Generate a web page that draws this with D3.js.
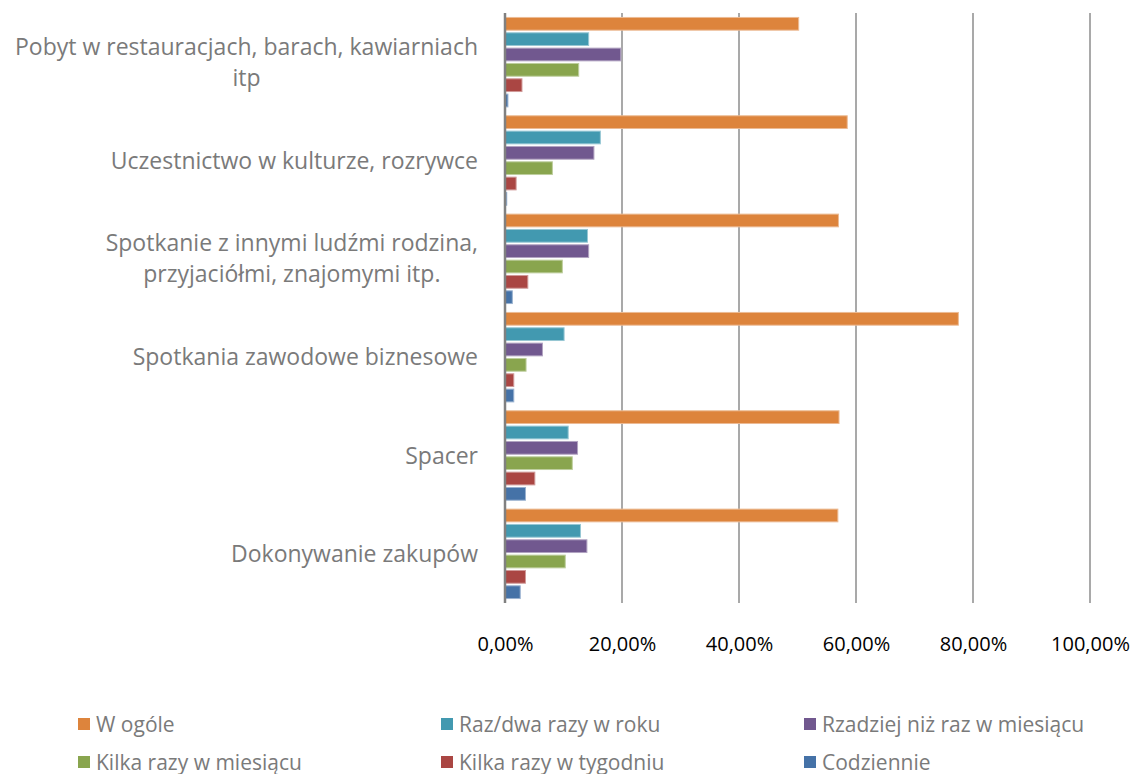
<!DOCTYPE html>
<html>
<head>
<meta charset="utf-8">
<script src="https://cdn.jsdelivr.net/npm/d3@7"></script>
<style>
  html, body { margin: 0; padding: 0; background: #fff; }
  svg text { font-family: "Open Sans", "Noto Sans", sans-serif; }
</style>
</head>
<body>
<svg id="chart" width="1136" height="774"></svg>
<script>
// Activity categories (top to bottom), pre-wrapped into lines
const categories = [
  ["Pobyt w restauracjach, barach, kawiarniach", "itp"],
  ["Uczestnictwo w kulturze, rozrywce"],
  ["Spotkanie z innymi ludźmi rodzina,", "przyjaciółmi, znajomymi itp."],
  ["Spotkania zawodowe biznesowe"],
  ["Spacer"],
  ["Dokonywanie zakupów"]
];

// Frequency series (legend order)
const seriesNames = [
  "W ogóle",
  "Raz/dwa razy w roku",
  "Rzadziej niż raz w miesiącu",
  "Kilka razy w miesiącu",
  "Kilka razy w tygodniu",
  "Codziennie"
];
const seriesColors = ["#DD843C", "#4299B0", "#71588F", "#89A54E", "#AA4643", "#4572A7"];

// Share of respondents (%) per category, one array per series
const wOgole        = [50.2, 58.5, 57.0, 77.5, 57.1, 56.9];
const razDwaWRoku   = [14.3, 16.3, 14.1, 10.1, 10.8, 12.9];
const rzadziej      = [19.8, 15.2, 14.3,  6.4, 12.4, 14.0];
const kilkaMiesiac  = [12.6,  8.1,  9.8,  3.6, 11.5, 10.3];
const kilkaTydzien  = [ 2.9,  1.9,  3.9,  1.5,  5.1,  3.5];
const codziennie    = [ 0.5,  0.3,  1.25, 1.5,  3.5,  2.6];
const seriesValues = [wOgole, razDwaWRoku, rzadziej, kilkaMiesiac, kilkaTydzien, codziennie];

const xTicks = [0, 20, 40, 60, 80, 100];
const tickLabel = v => v.toFixed(2).replace(".", ",") + "%";

const svg = d3.select("#chart");
const plot = { left: 505, right: 1090, top: 13, bottom: 603 };

const x = d3.scaleLinear().domain([0, 100]).range([plot.left, plot.right]);
const catIdx = d3.range(categories.length);
const y0 = d3.scaleBand().domain(catIdx).range([plot.top, plot.bottom]).padding(0);
const y1 = d3.scaleBand().domain(d3.range(seriesNames.length))
  .range([0, y0.bandwidth()]).paddingInner(0.17).paddingOuter(0.29);

// Vertical gridlines
svg.append("g").selectAll("line")
  .data(xTicks.slice(1))
  .join("line")
  .attr("x1", d => x(d)).attr("x2", d => x(d))
  .attr("y1", plot.top).attr("y2", plot.bottom)
  .attr("stroke", "#8c8c8c").attr("stroke-width", 1.5);

// Bars
const groups = svg.append("g").selectAll("g")
  .data(catIdx)
  .join("g")
  .attr("transform", i => `translate(0,${y0(i)})`);

groups.selectAll("rect")
  .data(i => seriesValues.map((vals, s) => ({ s, v: vals[i] })))
  .join("rect")
  .attr("x", x(0))
  .attr("y", d => y1(d.s))
  .attr("width", d => x(d.v) - x(0))
  .attr("height", y1.bandwidth())
  .attr("fill", d => seriesColors[d.s])
  .attr("stroke", d => d3.interpolateRgb(seriesColors[d.s], "#fff")(0.45))
  .attr("stroke-width", 1);

// Category axis line
svg.append("line")
  .attr("x1", plot.left).attr("x2", plot.left)
  .attr("y1", plot.top).attr("y2", plot.bottom)
  .attr("stroke", "#808080").attr("stroke-width", 2.5);

// Category labels: first line right-aligned, further lines centred under it
const labelRight = 478;
const labelMaxW = 468;
const lineH = 31;
const labelG = svg.append("g");
function drawLabels() {
  labelG.selectAll("*").remove();
  catIdx.forEach(i => {
    const lines = categories[i];
    const cy = y0(i) + y0.bandwidth() / 2;
    const texts = lines.map((ln, k) => labelG.append("text")
      .attr("y", cy + (k - (lines.length - 1) / 2) * lineH + 8)
      .attr("fill", "#7a7a7a")
      .style("font-size", "23px")
      .text(ln));
    texts[0].attr("x", labelRight).attr("text-anchor", "end");
    let w0 = texts[0].node().getComputedTextLength();
    if (w0 > labelMaxW) {
      texts[0].attr("textLength", labelMaxW).attr("lengthAdjust", "spacingAndGlyphs");
      w0 = labelMaxW;
    }
    texts.slice(1).forEach(t => t.attr("x", labelRight - w0 / 2).attr("text-anchor", "middle"));
  });
}
drawLabels();
if (document.fonts && document.fonts.ready) document.fonts.ready.then(drawLabels);

// X axis tick labels
const xAxis = d3.axisBottom(x).tickValues(xTicks).tickFormat(tickLabel).tickSize(0);
const gx = svg.append("g")
  .attr("transform", `translate(0,${plot.bottom})`)
  .call(xAxis);
gx.select(".domain").remove();
gx.selectAll("text")
  .attr("dy", 0)
  .attr("y", 48)
  .attr("fill", "#000")
  .style("font-size", "20px")
  .style("font-family", "'Open Sans', sans-serif");

// Legend
const legendCols = [78, 441, 804];
const legendRows = [724, 762];
const legend = svg.append("g").selectAll("g")
  .data(seriesNames)
  .join("g")
  .attr("transform", (d, i) => `translate(${legendCols[i % 3]},${legendRows[Math.floor(i / 3)]})`);
legend.append("rect")
  .attr("x", 0).attr("y", -6)
  .attr("width", 12).attr("height", 12)
  .attr("fill", (d, i) => seriesColors[i]);
legend.append("text")
  .attr("x", 18).attr("y", 7.5)
  .attr("fill", "#7a7a7a")
  .style("font-size", "21px")
  .text(d => d);
</script>
</body>
</html>
